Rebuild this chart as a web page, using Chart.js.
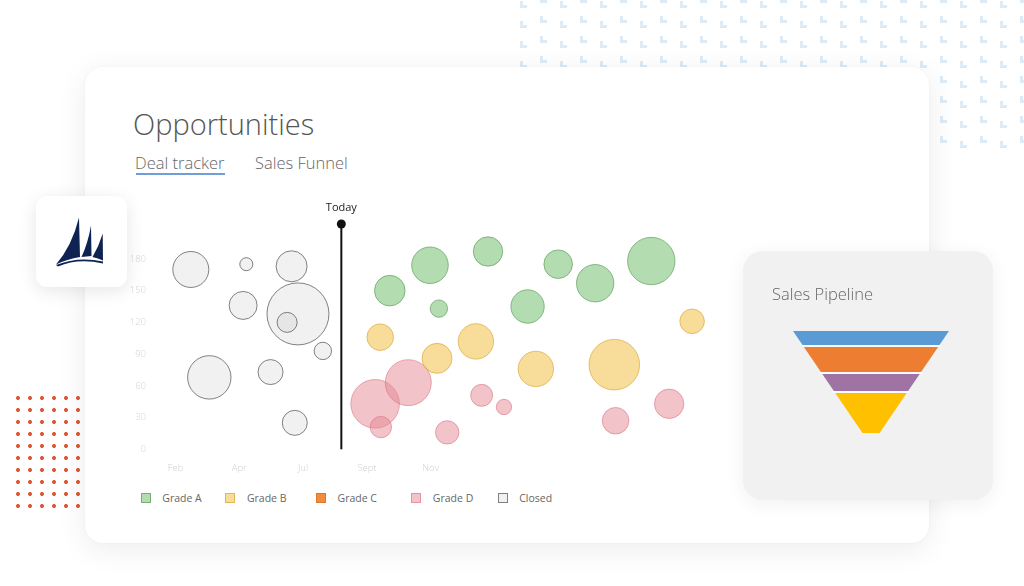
<!DOCTYPE html>
<html>
<head>
<meta charset="utf-8">
<script src="https://cdn.jsdelivr.net/npm/chart.js@4.4.1/dist/chart.umd.min.js"></script>
<style>
  html, body { margin: 0; padding: 0; }
  body { width: 1024px; height: 586px; position: relative; overflow: hidden; background: #fff; font-family: 'Open Sans', 'Noto Sans', sans-serif; }
  .pattern { position: absolute; left: 510px; top: 0; width: 514px; height: 148px;
    background-image: url("data:image/svg+xml;utf8,<svg xmlns='http://www.w3.org/2000/svg' width='40' height='20'><path fill='%23dcebf8' d='M10 1h3v4h4v3h-7z M30 -4h3v4h4v3h-7z M30 16h3v4h4v3h-7z'/></svg>"); }
  .dots { position: absolute; left: 11.7px; top: 391.7px; width: 72px; height: 120px;
    background: radial-gradient(circle at 6px 6px, #e05a3a 0, #e05a3a 1.6px, transparent 2.3px) 0 0 / 12px 12px; }
  .card { position: absolute; left: 85px; top: 67px; width: 844px; height: 476px; background: #fff; border-radius: 18px;
    box-shadow: 0 6px 30px rgba(0,0,0,0.08), 0 0 3px rgba(0,0,0,0.04); }
  .logo { position: absolute; left: 36px; top: 196px; width: 91px; height: 91px; background: #fff; border-radius: 11px;
    box-shadow: 0 4px 18px rgba(0,0,0,0.10); }
  .pipe { position: absolute; left: 743px; top: 251px; width: 250px; height: 249px; background: #f1f1f1; border-radius: 20px;
    box-shadow: 0 4px 20px rgba(0,0,0,0.06); }
  .title { position: absolute; left: 133px; top: 109px; font-size: 29px; line-height: 29px; font-weight: 300; color: #555; white-space: nowrap; }
  .tab { position: absolute; top: 154.5px; font-size: 16.5px; line-height: 16.5px; color: #666; font-weight: 300; white-space: nowrap; }
  .tab.active { left: 135px; }
  .tab.other { left: 255px; }
  .underline { position: absolute; left: 136px; top: 173px; width: 89px; height: 2px; background: #6f9fd6; }
  .pipe-title { position: absolute; left: 772px; top: 285.5px; font-size: 16.5px; line-height: 16.5px; color: #666; font-weight: 300; white-space: nowrap; }
  #dealWrap { position: absolute; left: 117px; top: 192px; width: 639px; height: 289.3px; }
  #funnelWrap { position: absolute; left: 775.5px; top: 326px; width: 190px; height: 112px; }
  .legend { position: absolute; left: 140.7px; top: 492.3px; height: 12px; display: flex; align-items: center; font-size: 10.5px; color: #666; }
  .legend .item { display: flex; align-items: center; }
  .legend .box { width: 10px; height: 10px; box-sizing: border-box; border: 1px solid; margin-right: 11.6px; }
  .legend .item:nth-child(1) { width: 84.6px; }
  .legend .item:nth-child(2) { width: 90.7px; }
  .legend .item:nth-child(3) { width: 95.3px; }
  .legend .item:nth-child(4) { width: 86.4px; }
</style>
</head>
<body>
<div class="pattern"></div>
<div class="dots"></div>
<div class="card"></div>
<div class="title">Opportunities</div>
<div class="tab active">Deal tracker</div>
<div class="tab other">Sales Funnel</div>
<div class="underline"></div>
<div id="dealWrap"><canvas id="dealChart"></canvas></div>
<div class="legend" id="legend"></div>
<div class="logo">
  <svg width="91" height="91" viewBox="0 0 91 91">
    <g fill="#0f2353">
      <path d="M43 21.5 L44 61 Q31 63 20 68.5 Q36 50 43 21.5 Z"/>
      <path d="M55 29.5 L55.5 60 L45.5 61 Q52 47 55 29.5 Z"/>
      <path d="M66.7 37.5 L67 64.5 Q62 62 56.5 61 Q63 50 66.7 37.5 Z"/>
      <path d="M20 69 Q42 60 67 65.5 L67 67.5 Q42 62 22 70.5 Z"/>
    </g>
  </svg>
</div>
<div class="pipe"></div>
<div class="pipe-title">Sales Pipeline</div>
<div id="funnelWrap"><canvas id="funnelChart"></canvas></div>

<script>
// axis labels
const monthLabels = ['Feb', 'Apr', 'Jul', 'Sept', 'Nov'];
const monthPositions = [1, 2, 3, 4, 5];
const yTicks = [0, 30, 60, 90, 120, 150, 180];
const todayX = 3.6;

// bubble series (x = month position, y = value, r = deal size in px)
const gradeA = [
  { x: 4.36, y: 150, r: 15.3 }, { x: 4.99, y: 174, r: 18.3 }, { x: 5.90, y: 187, r: 14.7 },
  { x: 5.13, y: 133, r: 8.7 }, { x: 6.52, y: 135, r: 16.7 }, { x: 7.00, y: 175, r: 14.3 },
  { x: 7.58, y: 157, r: 18.7 }, { x: 8.46, y: 178, r: 23.7 }
];
const gradeB = [
  { x: 4.21, y: 106, r: 13.3 }, { x: 5.10, y: 86, r: 15 }, { x: 5.71, y: 102, r: 17.7 },
  { x: 6.65, y: 76, r: 17.7 }, { x: 7.88, y: 80, r: 25.3 }, { x: 9.10, y: 121, r: 12.3 }
];
const gradeC = [];
const gradeD = [
  { x: 4.13, y: 43, r: 24.3 }, { x: 4.65, y: 63, r: 23 }, { x: 4.22, y: 21, r: 10.7 },
  { x: 5.26, y: 16, r: 11.7 }, { x: 5.80, y: 51, r: 11 }, { x: 6.15, y: 40, r: 7.7 },
  { x: 7.90, y: 27, r: 13.3 }, { x: 8.74, y: 43, r: 14.7 }
];
const closed = [
  { x: 1.24, y: 170, r: 18 }, { x: 2.11, y: 175, r: 6.5 }, { x: 2.82, y: 173, r: 15.5 },
  { x: 2.06, y: 136, r: 14 }, { x: 2.92, y: 128, r: 31 }, { x: 2.75, y: 120, r: 10 },
  { x: 3.31, y: 93, r: 8.7 }, { x: 1.53, y: 68, r: 21.7 }, { x: 2.49, y: 73, r: 12.5 },
  { x: 2.87, y: 25, r: 12.5 }
];

const seriesNames = ['Grade A', 'Grade B', 'Grade C', 'Grade D', 'Closed'];
const seriesData = [gradeA, gradeB, gradeC, gradeD, closed];
const seriesFill = ['rgba(103,185,97,0.5)', 'rgba(239,185,53,0.5)', 'rgba(237,128,40,0.9)', 'rgba(230,135,148,0.5)', 'rgba(200,200,200,0.25)'];
const seriesBorder = ['rgba(70,140,65,0.55)', 'rgba(215,160,40,0.6)', 'rgba(225,120,35,1)', 'rgba(215,110,125,0.55)', 'rgba(90,90,90,0.75)'];

// funnel stages
const stageNames = ['Lead', 'Qualify', 'Propose', 'Close'];
const stageValues = [15, 27, 19, 41];
const stageColors = ['#5b9bd5', '#ed7d31', '#a073a5', '#ffc000'];

const tickFont = { family: "'Open Sans', sans-serif", size: 9.5, weight: '300' };

const todayLine = {
  id: 'todayLine',
  afterDatasetsDraw(chart) {
    const { ctx, chartArea, scales } = chart;
    const x = scales.x.getPixelForValue(todayX);
    ctx.save();
    ctx.strokeStyle = '#111';
    ctx.lineWidth = 2;
    ctx.beginPath();
    ctx.moveTo(x, chartArea.top);
    ctx.lineTo(x, chartArea.bottom);
    ctx.stroke();
    ctx.fillStyle = '#111';
    ctx.beginPath();
    ctx.arc(x, chartArea.top, 4.5, 0, Math.PI * 2);
    ctx.fill();
    ctx.font = "11px 'Open Sans', sans-serif";
    ctx.textAlign = 'center';
    ctx.textBaseline = 'middle';
    ctx.fillStyle = '#222';
    ctx.fillText('Today', x, chartArea.top - 16);
    ctx.restore();
  }
};

// note: bubble charts force a min padding of the biggest radius on every side,
// so the canvas is sized with that 32px margin in mind
new Chart(document.getElementById('dealChart'), {
  type: 'bubble',
  data: {
    datasets: seriesNames.map((name, i) => ({
      label: name,
      data: seriesData[i],
      backgroundColor: seriesFill[i],
      borderColor: seriesBorder[i],
      borderWidth: 1,
      clip: false
    }))
  },
  options: {
    responsive: true,
    maintainAspectRatio: false,
    animation: false,
    layout: { padding: 0 },
    plugins: { legend: { display: false }, tooltip: { enabled: false } },
    scales: {
      x: {
        type: 'linear', min: 0.6, max: 9.6,
        grid: { display: false, drawTicks: false },
        border: { display: false },
        afterBuildTicks: s => { s.ticks = monthPositions.map(v => ({ value: v })); },
        afterFit: s => { s.height = 32; },
        ticks: { padding: 13, color: '#d0d0d0', font: tickFont, autoSkip: false, maxRotation: 0,
                 callback: (v, i) => monthLabels[i] }
      },
      y: {
        type: 'linear', min: 0, max: 213,
        grid: { display: false, drawTicks: false },
        border: { display: false },
        afterBuildTicks: s => { s.ticks = yTicks.map(v => ({ value: v })); },
        afterFit: s => { s.width = 33; },
        ticks: { padding: 4, color: '#d4d4d4', font: tickFont }
      }
    }
  },
  plugins: [todayLine]
});

// html legend built from the series arrays
const legend = document.getElementById('legend');
seriesNames.forEach((name, i) => {
  const item = document.createElement('div');
  item.className = 'item';
  const box = document.createElement('span');
  box.className = 'box';
  box.style.background = seriesFill[i];
  box.style.borderColor = seriesBorder[i];
  item.appendChild(box);
  item.appendChild(document.createTextNode(name));
  legend.appendChild(item);
});

// funnel: each stage is a trapezoid whose corners come from the cumulative stage values
const funnelTop = 78;
const funnelBottom = 8.5;
const funnelTotal = stageValues.reduce((a, b) => a + b, 0);
const halfWidth = d => funnelTop - (funnelTop - funnelBottom) * d / funnelTotal;

let depth = 0;
const funnelSets = stageValues.map((v, i) => {
  const t = depth, b = depth + v;
  depth = b;
  return {
    label: stageNames[i],
    data: [
      { x: -halfWidth(t), y: t }, { x: halfWidth(t), y: t },
      { x: halfWidth(b), y: b }, { x: -halfWidth(b), y: b }
    ],
    backgroundColor: stageColors[i],
    pointRadius: 0,
    showLine: false
  };
});

const funnelShape = {
  id: 'funnelShape',
  afterDatasetsDraw(chart) {
    const ctx = chart.ctx;
    chart.data.datasets.forEach((ds, i) => {
      const pts = chart.getDatasetMeta(i).data;
      ctx.save();
      ctx.beginPath();
      pts.forEach((p, j) => j ? ctx.lineTo(p.x, p.y) : ctx.moveTo(p.x, p.y));
      ctx.closePath();
      ctx.fillStyle = ds.backgroundColor;
      ctx.fill();
      if (i > 0) {
        ctx.strokeStyle = '#fafafa';
        ctx.lineWidth = 1.8;
        ctx.beginPath();
        ctx.moveTo(pts[0].x - 2, pts[0].y);
        ctx.lineTo(pts[1].x + 2, pts[1].y);
        ctx.stroke();
      }
      ctx.restore();
    });
  }
};

new Chart(document.getElementById('funnelChart'), {
  type: 'scatter',
  data: { datasets: funnelSets },
  options: {
    responsive: true,
    maintainAspectRatio: false,
    animation: false,
    layout: { padding: 5 },
    plugins: { legend: { display: false }, tooltip: { enabled: false } },
    scales: {
      x: { display: false, min: -90, max: 90 },
      y: { display: false, min: 0, max: funnelTotal, reverse: true }
    }
  },
  plugins: [funnelShape]
});
</script>
</body>
</html>
